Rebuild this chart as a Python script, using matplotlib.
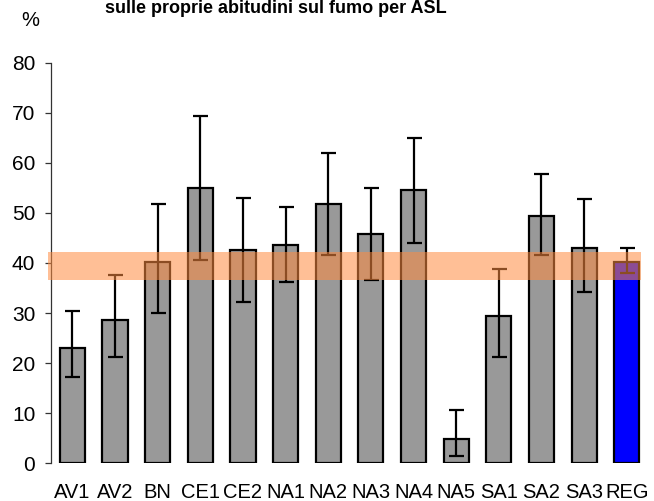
import matplotlib
matplotlib.use("Agg")
import matplotlib.pyplot as plt
import numpy as np

plt.rcParams['font.family'] = ['Liberation Sans', 'DejaVu Sans']

# ASL categories and percentages with confidence limits
asl = ["AV1", "AV2", "BN", "CE1", "CE2", "NA1", "NA2", "NA3", "NA4", "NA5", "SA1", "SA2", "SA3", "REG"]
perc = [23.0, 28.7, 40.1, 54.9, 42.5, 43.5, 51.7, 45.7, 54.5, 4.8, 29.5, 49.4, 43.0, 40.1]
ci_low = [17.2, 21.3, 30.0, 40.6, 32.3, 36.1, 41.5, 36.5, 43.9, 1.5, 21.3, 41.5, 34.1, 37.9]
ci_high = [30.5, 37.5, 51.7, 69.3, 53.0, 51.2, 61.9, 54.9, 65.0, 10.7, 38.8, 57.7, 52.7, 42.9]
band = [36.5, 42.2]  # regional reference band

colors = ['#999999'] * (len(asl) - 1) + ['#0000FF']

fig = plt.figure(figsize=(6.54, 5.01), dpi=100)
ax = fig.add_axes([0.078, 0.0752, 0.913, 0.80])

x = np.arange(len(asl))
p = np.array(perc)
yerr = [p - np.array(ci_low), np.array(ci_high) - p]

ax.bar(x, perc, width=0.59, color=colors, edgecolor='black', linewidth=1.6, zorder=2)
ax.errorbar(x, perc, yerr=yerr, fmt='none', ecolor='black', elinewidth=1.6,
            capsize=5.4, capthick=1.6, zorder=3)

ax.axhspan(band[0], band[1], xmin=-0.005, xmax=0.988, color='#FF8C40', alpha=0.55,
           linewidth=0, zorder=4, clip_on=False)

ax.set_xlim(-0.5, len(asl) - 0.5)
ax.set_ylim(0, 80)
ax.set_yticks(np.arange(0, 81, 10))
ax.set_xticks(x)
ax.set_xticklabels(asl)

for s in ['top', 'right', 'bottom']:
    ax.spines[s].set_visible(False)
ax.spines['left'].set_color('#333333')
ax.spines['left'].set_linewidth(0.9)

ax.tick_params(axis='y', length=4.3, width=0.9, color='#333333', pad=7, labelsize=15)
ax.tick_params(axis='x', length=0, pad=14.5, labelsize=14.5)

fig.text(30 / 654, 1 - 20 / 501, "%", ha='center', va='center', fontsize=14.5)
fig.text(0.422, 1 - 13 / 501, "sulle proprie abitudini sul fumo per ASL",
         ha='center', va='baseline', fontsize=13, fontweight='bold')

fig.savefig('out.png', dpi=100)
